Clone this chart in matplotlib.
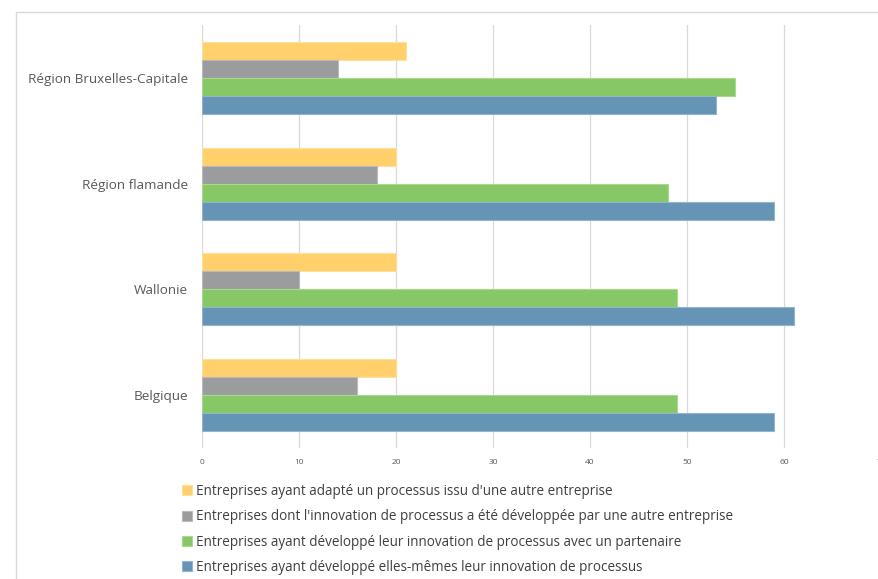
import matplotlib.pyplot as plt
import matplotlib.patches as mpatches
import numpy as np

regions = ['Belgique', 'Wallonie', 'Région flamande', 'Région Bruxelles-Capitale']
adapte = [20, 20, 20, 21]
autre_entreprise = [16, 10, 18, 14]
partenaire = [49, 49, 48, 55]
elles_memes = [59, 61, 59, 53]

labels = ["Entreprises ayant adapté un processus issu d'une autre entreprise",
          "Entreprises dont l'innovation de processus a été développée par une autre entreprise",
          "Entreprises ayant développé leur innovation de processus avec un partenaire",
          "Entreprises ayant développé elles-mêmes leur innovation de processus"]
colors = ['#FFD06B', '#9A9C9D', '#88C766', '#6694B4']
edges = ['#FFE09A', '#B8BABB', '#A8DA8E', '#93B5CC']

plt.rcParams['font.family'] = ['Open Sans', 'DejaVu Sans']

W, H = 879, 579
fig = plt.figure(figsize=(W / 100, H / 100), dpi=100)
ax = fig.add_axes([202 / W, 1 - 448 / H, 679 / W, 423 / H])

# outer chart border
fig.patches.append(mpatches.Rectangle((16 / W, 1 - 600 / H), 900 / W, 588 / H,
                                      transform=fig.transFigure, fill=False,
                                      edgecolor='#D9D9D9', linewidth=1))

y = np.arange(len(regions))
h = 0.17
series = [adapte, autre_entreprise, partenaire, elles_memes]
offsets = [1.5 * h, 0.5 * h, -0.5 * h, -1.5 * h]
handles = []
for vals, off, c, e, lab in zip(series, offsets, colors, edges, labels):
    b = ax.barh(y + off, vals, height=h, color=c, edgecolor=e, linewidth=0.8,
                label=lab, zorder=3)
    handles.append(b)

ax.set_xlim(0, 70)
ax.set_ylim(-0.5, 3.5)
ax.set_xticks(range(0, 71, 10))
ax.set_yticks(y)
ax.set_yticklabels(regions, fontsize=9.7, color='#595959')
ax.tick_params(axis='x', labelsize=6, colors='#595959', length=0, pad=8)
ax.tick_params(axis='y', length=0, pad=10)
ax.grid(axis='x', color='#D9D9D9', linewidth=0.9, zorder=0)
for s in ax.spines.values():
    s.set_visible(False)

fig.legend(handles=handles, labels=labels, loc='upper left',
           bbox_to_anchor=(182 / W, 1 - 484 / H), frameon=False,
           fontsize=9.75, labelcolor='#404040', handlelength=0.75,
           handleheight=0.75, handletextpad=0.3, labelspacing=0.76,
           borderaxespad=0, borderpad=0)

fig.savefig('out.png', dpi=100)
